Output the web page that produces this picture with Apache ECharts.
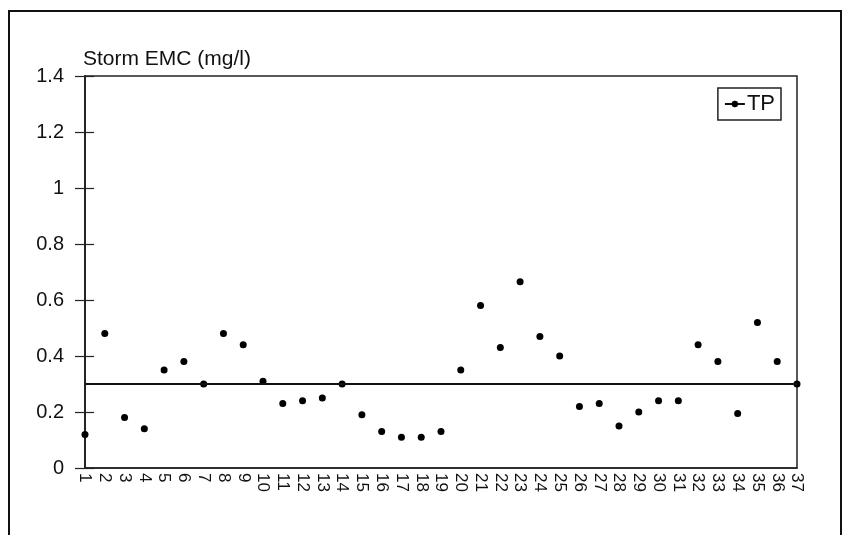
<!DOCTYPE html>
<html>
<head>
<meta charset="utf-8">
<title>Storm EMC</title>
<script src="https://cdn.jsdelivr.net/npm/echarts@6/dist/echarts.min.js"></script>
<style>
  html, body { margin: 0; padding: 0; background: #fff; }
  #chartStormEmc { width: 844px; height: 535px; }
</style>
</head>
<body>
<div id="chartStormEmc"></div>
<script>
// storm events 1..37
var eventNames = ['1','2','3','4','5','6','7','8','9','10','11','12','13','14','15','16','17','18','19',
  '20','21','22','23','24','25','26','27','28','29','30','31','32','33','34','35','36','37'];
// TP event mean concentration, mg/l
var tpValues = [0.12, 0.48, 0.18, 0.14, 0.35, 0.38, 0.30, 0.48, 0.44, 0.31,
  0.23, 0.24, 0.25, 0.30, 0.19, 0.13, 0.11, 0.11, 0.13, 0.35,
  0.58, 0.43, 0.665, 0.47, 0.40, 0.22, 0.23, 0.15, 0.20, 0.24,
  0.24, 0.44, 0.38, 0.195, 0.52, 0.38, 0.30];
var meanLine = 0.30;
var yTicks = [0, 0.2, 0.4, 0.6, 0.8, 1, 1.2, 1.4];

var font = '"Liberation Sans", Arial, sans-serif';

var yMin = yTicks[0], yMax = yTicks[yTicks.length - 1], yStep = yTicks[1] - yTicks[0];
var gridBox = { left : 85, right : 47, top : 76, bottom : 67 };

option = {
  animation : false,
  backgroundColor : '#fff',
  title : {
    text : 'Storm EMC (mg/l)',
    left : 78,
    top : 44,
    textStyle : {
      fontFamily : font,
      fontSize : 21,
      fontWeight : 'normal',
      color : '#111'
    }
  },
  legend : {
    data : ['TP'],
    right : 63,
    top : 88,
    padding : [5, 6, 5, 6],
    borderColor : '#222',
    borderWidth : 1.5,
    borderRadius : 0,
    itemWidth : 20,
    itemHeight : 8,
    itemGap : 4,
    lineStyle : {
      color : '#111',
      width : 2,
      opacity : 1
    },
    textStyle : {
      fontFamily : font,
      fontSize : 22,
      color : '#111',
      padding : [0, 0, 0, -3]
    }
  },
  grid : [ {
    left : gridBox.left,
    right : gridBox.right,
    top : gridBox.top,
    bottom : gridBox.bottom,
    show : true,
    borderColor : '#222',
    borderWidth : 1.5
  }, {
    // same box again, carries the outer half of the y ticks
    left : gridBox.left,
    right : gridBox.right,
    top : gridBox.top,
    bottom : gridBox.bottom
  } ],
  xAxis : [ {
    type : 'category',
    data : eventNames,
    boundaryGap : false,
    axisLine : { lineStyle : { color : '#222', width : 1.5 } },
    axisTick : { show : false },
    axisLabel : {
      interval : 0,
      rotate : -90,
      margin : 5,
      fontFamily : font,
      fontSize : 17,
      color : '#111'
    },
    splitLine : { show : false }
  }, {
    gridIndex : 1,
    type : 'category',
    data : eventNames,
    boundaryGap : false,
    show : false
  } ],
  yAxis : [ {
    type : 'value',
    min : yMin,
    max : yMax,
    interval : yStep,
    axisLine : { show : true, lineStyle : { color : '#222', width : 1.5 } },
    axisTick : { show : true, inside : true, length : 9, lineStyle : { color : '#222', width : 1.2 } },
    axisLabel : {
      margin : 21,
      fontFamily : font,
      fontSize : 20,
      color : '#111',
      formatter : function(v) {
        return String(Math.round(v * 10) / 10);
      }
    },
    splitLine : { show : false }
  }, {
    gridIndex : 1,
    type : 'value',
    min : yMin,
    max : yMax,
    interval : yStep,
    axisLine : { show : true, lineStyle : { color : '#222', width : 1.5 } },
    axisTick : { show : true, length : 10, lineStyle : { color : '#222', width : 1.2 } },
    axisLabel : { show : false },
    splitLine : { show : false }
  } ],
  series : [ {
    name : 'TP',
    type : 'line',
    data : tpValues,
    symbol : 'circle',
    symbolSize : 7,
    itemStyle : { color : '#000' },
    lineStyle : { width : 0, opacity : 0 },
    markLine : {
      silent : true,
      symbol : 'none',
      label : { show : false },
      lineStyle : { color : '#111', width : 1.8, type : 'solid' },
      data : [ { yAxis : meanLine } ]
    }
  } ],
  graphic : [ {
    type : 'polyline',
    silent : true,
    shape : { points : [ [9, 535], [9, 11], [841, 11], [841, 535] ] },
    style : { fill : null, stroke : '#111', lineWidth : 2 }
  } ]
};

var myChart = echarts.init(document.getElementById('chartStormEmc'), null, { renderer : 'canvas' });
myChart.setOption(option);
</script>
</body>
</html>
